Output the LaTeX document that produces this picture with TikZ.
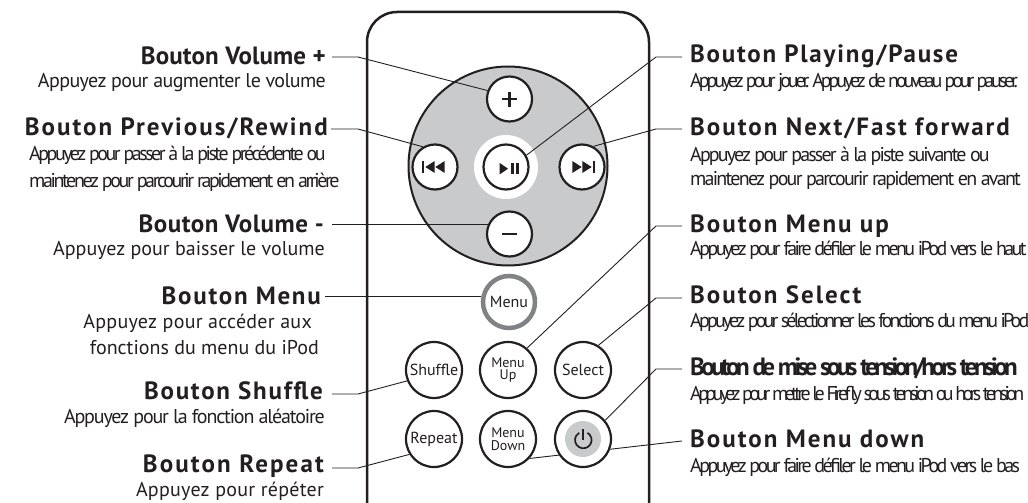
\documentclass[tikz,border=0pt]{standalone}
\usepackage{fontspec}
\setmainfont{PT Sans}
\usetikzlibrary{backgrounds}
\definecolor{ink}{HTML}{231F20}
\definecolor{padgray}{HTML}{C8CACC}
\definecolor{ringgray}{HTML}{808285}
\newcommand{\trk}[1]{\addfontfeatures{LetterSpace=#1}}
\tikzstyle{titleleft}=[anchor=east,text=ink,inner ysep=0pt,inner xsep=6pt,text height=14pt,text depth=2pt,font=\bfseries\fontsize{25}{25}\selectfont]
\tikzstyle{titleright}=[titleleft,anchor=west,inner xsep=8pt]
\tikzstyle{descleft}=[anchor=base east,text=ink,inner sep=0pt,font=\fontsize{20}{20}\selectfont]
\tikzstyle{descright}=[descleft,anchor=base west]
\tikzstyle{button}=[circle,draw=ink,fill=white,line width=2.2pt,minimum size=45pt,inner sep=0pt,text=ink,font=\fontsize{16}{16}\selectfont]
\tikzstyle{smallbutton}=[button,minimum size=56pt]
\tikzstyle{wire}=[draw=ink,line width=0.9pt]
\begin{document}
\begin{tikzpicture}[x=1pt,y=-1pt]
	\useasboundingbox (0,0) rectangle (1028,503);
	% buttons
	\node[button] (plus) at (509.5,99) {};
	\node[button] (prev) at (435,167) {};
	\node[button] (play) at (506,167) {};
	\node[button] (next) at (582,167) {};
	\node[button] (minus) at (509.5,234) {};
	\node[smallbutton,draw=ringgray,line width=4.5pt,minimum size=52pt] (menu) at (509,302) {Menu};
	\node[smallbutton] (shuffle) at (434,370) {Shuffle};
	\node[smallbutton,align=center,font=\fontsize{14}{12.5}\selectfont] (menuup) at (508,370) {Menu\\Up};
	\node[smallbutton] (select) at (583,370) {Select};
	\node[smallbutton] (repeat) at (434,439) {Repeat};
	\node[smallbutton,align=center,font=\fontsize{14}{12.5}\selectfont] (menudown) at (508,439) {Menu\\Down};
	\node[smallbutton] (power) at (583,439) {};
	% glyphs on the buttons
	\fill[padgray] (power.center) circle (18);
	\begin{scope}[shift={(power.center)}]
		\draw[ink,line width=1.7pt] (4.45,-6.2) arc (-60:240:8.3);
		\draw[ink,line width=1.7pt] (0.3,-9.7) -- (0.3,1);
	\end{scope}
	\fill[ink] (502,97.8) rectangle (517,100.2);
	\fill[ink] (508.3,91.5) rectangle (510.7,106.5);
	\fill[ink] (502,232.8) rectangle (517,235.2);
	\begin{scope}[shift={(prev.center)}]
		\fill[ink] (-13,-6) rectangle (-10.7,6);
		\fill[ink] (-9.7,0) -- (-0.3,-6) -- (-0.3,6) -- cycle;
		\fill[ink] (0.3,0) -- (9.7,-6) -- (9.7,6) -- cycle;
	\end{scope}
	\begin{scope}[shift={(next.center)}]
		\fill[ink] (13,-6) rectangle (10.7,6);
		\fill[ink] (9.7,0) -- (0.3,-6) -- (0.3,6) -- cycle;
		\fill[ink] (-0.3,0) -- (-9.7,-6) -- (-9.7,6) -- cycle;
	\end{scope}
	\begin{scope}[shift={(play.center)}]
		\fill[ink] (-6.3,-4) -- (2,1.7) -- (-6.3,7.4) -- cycle;
		\fill[ink] (5.3,-4) rectangle (7.7,7.4);
		\fill[ink] (10.3,-4) rectangle (13,7.4);
	\end{scope}
	% left labels
	\node[titleleft] (tplus) at (332,58) {\trk{0.5}Bouton Volume +};
	\node[descleft] (dplus) at (326,88) {\trk{-3}Appuyez pour augmenter le volume};
	\node[titleleft,inner xsep=3pt] (tprev) at (331,129) {\trk{8}Bouton Previous/Rewind};
	\node[descleft,anchor=base west] (dprev) at (29,160) {\trk{-12.5}Appuyez pour passer à la piste précédente ou};
	\node[descleft,anchor=base west] (dprevb) at (29,187) {\trk{-12}maintenez pour parcourir rapidement en arrière};
	\node[titleleft,inner xsep=8pt] (tminus) at (332,226) {\trk{2}Bouton Volume -};
	\node[descleft] (dminus) at (325,255) {Appuyez pour baisser le volume};
	\node[titleleft,inner xsep=4pt] (tmenu) at (325,298) {\trk{7}Bouton Menu};
	\node[descleft] (dmenu) at (312,328) {\trk{1.3}Appuyez pour accéder aux};
	\node[descleft] (dmenub) at (319,354) {fonctions du menu du iPod};
	\node[titleleft,inner xsep=9pt] (tshuffle) at (332,393) {\trk{7}Bouton Shuffle};
	\node[descleft] (dshuffle) at (325,423) {\trk{-5.8}Appuyez pour la fonction aléatoire};
	\node[titleleft,inner xsep=8pt] (trepeat) at (332,466) {\trk{8.5}Bouton Repeat};
	\node[descleft] (drepeat) at (324,496) {\trk{1.3}Appuyez pour répéter};
	% right labels
	\node[titleright] (tplay) at (682,57) {\trk{7}Bouton Playing/Pause};
	\node[descright] (dplay) at (690,88) {\trk{-15.5}Appuyez pour jouer. Appuyez de nouveau pour pauser.};
	\node[titleright] (tnext) at (682,129) {\trk{8}Bouton Next/Fast forward};
	\node[descright] (dnext) at (690,161) {\trk{-9.4}Appuyez pour passer à la piste suivante ou};
	\node[descright] (dnextb) at (690,185) {\trk{-8.8}maintenez pour parcourir rapidement en avant};
	\node[titleright] (tup) at (682,226) {\trk{8}Bouton Menu up};
	\node[descright] (dup) at (690,255) {\trk{-13}Appuyez pour faire défiler le menu iPod vers le haut};
	\node[titleright] (tselect) at (682,297) {\trk{8}Bouton Select};
	\node[descright] (dselect) at (690,327) {\trk{-14.2}Appuyez pour sélectionner les fonctions du menu iPod};
	\node[titleright] (tpower) at (682,369) {\trk{-14.2}Bouton de mise sous tension/hors tension};
	\node[descright] (dpower) at (690,400) {\trk{-18.2}Appuyez pour mettre le Firefly sous tension ou hors tension};
	\node[titleright] (tdown) at (682,441) {\trk{8}Bouton Menu down};
	\node[descright] (ddown) at (690,472) {\trk{-13}Appuyez pour faire défiler le menu iPod vers le bas};
	% bends of the connectors
	\coordinate (bplus) at (358,57);
	\coordinate (bprev) at (358,129);
	\coordinate (bshuffle) at (358,394);
	\coordinate (brepeat) at (358,468);
	\coordinate (bplay) at (656,57);
	\coordinate (bnext) at (656,129);
	\coordinate (bup) at (656,226);
	\coordinate (bselect) at (656,298);
	\coordinate (bpower) at (656,369);
	\begin{scope}[on background layer]
		% remote and pad
		\draw[ink,line width=2.5pt,rounded corners=30pt] (367,506) -- (367,12) -- (649,12) -- (649,506);
		\node[circle,draw=ink,fill=padgray,line width=2pt,minimum size=199pt,inner sep=0pt] (pad) at (508,166) {};
		\node[circle,fill=white,minimum size=64pt,inner sep=0pt] (ring) at (play.center) {};
		% connectors
		\draw[wire] (tplus.east |- bplus) -- (bplus) -- (plus.159);
		\draw[wire] (tprev.east |- bprev) -- (bprev) -- (prev.121);
		\draw[wire] (tminus.east |- minus.157) -- (minus.157);
		\draw[wire] (tmenu.east |- menu.169) -- (menu.169);
		\draw[wire] (tshuffle.east |- bshuffle) -- (bshuffle) -- (shuffle.202);
		\draw[wire] (trepeat.east |- brepeat) -- (brepeat) -- (repeat.212);
		\draw[wire] (tplay.west |- bplay) -- (bplay) -- (play.30);
		\draw[wire] (tnext.west |- bnext) -- (bnext) -- (next.61);
		\draw[wire] (tup.west |- bup) -- (bup) -- (menuup.49);
		\draw[wire] (tselect.west |- bselect) -- (bselect) -- (select.58);
		\draw[wire] (tpower.west |- bpower) -- (bpower) -- (power.40);
		\draw[wire] (tdown.west) -- (menudown.-42);
	\end{scope}
\end{tikzpicture}
\end{document}
